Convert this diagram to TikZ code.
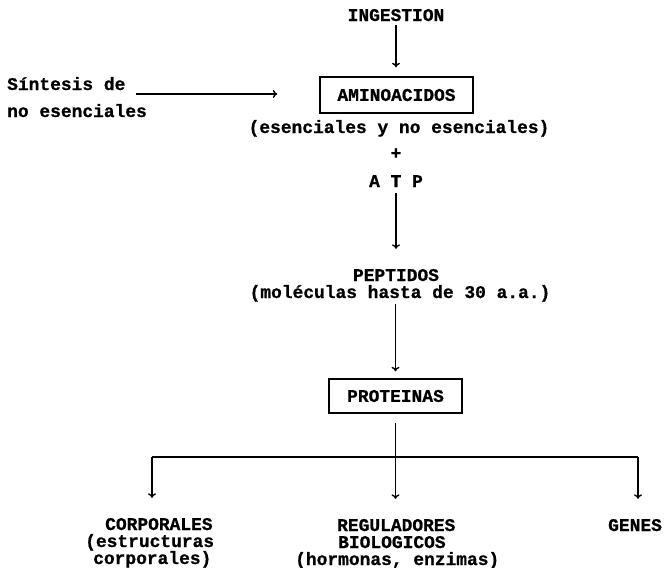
\documentclass[tikz,border=0pt]{standalone}
\usepackage{fontspec}
\setmainfont{Liberation Mono}[BoldFeatures={FakeBold=0.8}]
\usetikzlibrary{arrows.meta}
\begin{document}
\begin{tikzpicture}[x=1pt,y=-1pt,
  every node/.style={font=\fontsize{17.9}{17}\selectfont\bfseries, inner sep=0pt},
  box/.style={draw, line width=1.4pt},
  conn/.style={line width=1.4pt},
  arr/.style={conn, -{To[length=4.5pt,width=8pt]}}]
\useasboundingbox (0,0) rectangle (665,568);
% top
\node[anchor=base] (ing) at (396,21) {INGESTION};
\node[box, minimum width=153pt, minimum height=36pt] (amino) at (396.5,95) {AMINOACIDOS};
\node[anchor=base west] (sint) at (7,90) {Síntesis de};
\node[anchor=base west] (noes) at (7,117) {no esenciales};
\node[anchor=base] (esen) at (399,133) {(esenciales y no esenciales)};
\node[anchor=base] (plus) at (396,159) {+};
\node[anchor=base] (atp) at (396,187) {A T P};
\node[anchor=base] (pep1) at (396,281) {PEPTIDOS};
\node[anchor=base] (pep2) at (400,298) {(moléculas hasta de 30 a.a.)};
\node[box, minimum width=133pt, minimum height=34pt] (prot) at (395.5,396) {PROTEINAS};
% bottom
\node[anchor=base west] (corp1) at (105,530) {CORPORALES};
\node[anchor=base west] (corp2) at (85,547) {(estructuras};
\node[anchor=base west] (corp3) at (93,564) {corporales)};
\node[anchor=base west] (reg1) at (337,531) {REGULADORES};
\node[anchor=base west] (reg2) at (338,548) {BIOLOGICOS};
\node[anchor=base west] (reg3) at (295,565) {(hormonas, enzimas)};
\node[anchor=base west] (genes) at (608,531) {GENES};
% connectors
\draw[arr, shorten <=4pt, shorten >=9pt] (ing.south) -- (ing.south |- amino.north);
\coordinate (s0) at ([xshift=10pt,yshift=-4pt]sint.base east);
\draw[arr, shorten >=42pt] (s0) -- (s0 -| amino.west);
\draw[arr, shorten <=6pt, shorten >=20pt] (atp.south) -- (atp.south |- pep1.north);
\draw[arr, shorten <=2pt, shorten >=7pt] (prot.north |- pep2.south) -- (prot.north);
\coordinate (bl) at (152,457);
\coordinate (br) at (638,457);
\draw[conn] (bl) -- (br);
\draw[arr, shorten >=20pt] (bl) -- (bl |- corp1.north);
\draw[arr, shorten >=20pt] (br) -- (br |- genes.north);
\draw[arr, shorten <=9pt, shorten >=20pt] (prot.south) -- (prot.south |- reg1.north);
\end{tikzpicture}
\end{document}
